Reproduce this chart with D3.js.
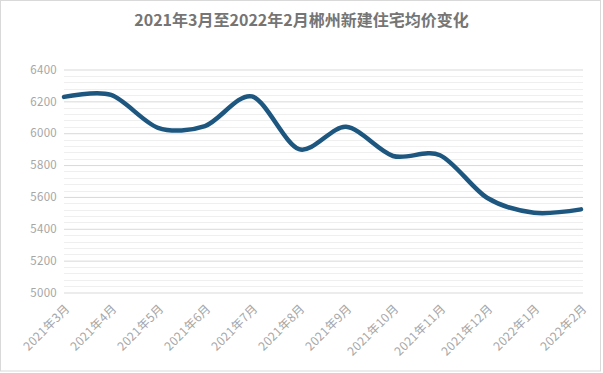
<!DOCTYPE html>
<html>
<head>
<meta charset="utf-8">
<script src="https://cdn.jsdelivr.net/npm/d3@7"></script>
<style>
  html, body { margin: 0; padding: 0; background: #fff; }
  svg { display: block; }
  text { font-family: "Noto Sans CJK SC", "Noto Sans", sans-serif; }
</style>
</head>
<body>
<div id="chart"></div>
<script>
const title = '2021年3月至2022年2月郴州新建住宅均价变化';
const months = ['2021年3月', '2021年4月', '2021年5月', '2021年6月', '2021年7月', '2021年8月',
  '2021年9月', '2021年10月', '2021年11月', '2021年12月', '2022年1月', '2022年2月'];
const prices = [6228, 6240, 6034, 6045, 6231, 5900, 6040, 5857, 5862, 5595, 5501, 5522];
const yTicks = [5000, 5200, 5400, 5600, 5800, 6000, 6200, 6400];
const yMinorStep = 40;

const [w, h] = [603, 373];
const m = { top: 69.5, right: 22, bottom: 80.5, left: 64 };

const svg = d3.select('#chart').append('svg')
  .attr('width', w).attr('height', h);

svg.append('rect')
  .attr('x', 0.5).attr('y', 0.5)
  .attr('width', w - 3).attr('height', h - 2.5)
  .attr('fill', '#fff').attr('stroke', '#d9d9d9');

svg.append('text')
  .attr('x', w / 2).attr('y', 26)
  .attr('text-anchor', 'middle')
  .attr('font-size', 16).attr('font-weight', 'bold')
  .attr('fill', '#757575')
  .text(title);

const x = d3.scalePoint().domain(months).range([m.left, w - m.right]);
const y = d3.scaleLinear().domain([5000, 6400]).range([h - m.bottom, m.top]);

// minor grid
const minor = d3.range(5000, 6400, yMinorStep).filter(v => v % 200 !== 0);
svg.append('g').selectAll('line').data(minor).enter().append('line')
  .attr('x1', m.left).attr('x2', w - m.right + 2)
  .attr('y1', d => Math.round(y(d)) + 0.5).attr('y2', d => Math.round(y(d)) + 0.5)
  .attr('stroke', '#efefef');

// major grid + y axis labels
const yAxis = d3.axisLeft(y).tickValues(yTicks).tickFormat(d3.format('d'))
  .tickSize(-(w - m.left - m.right + 2)).tickPadding(7);
const gy = svg.append('g').attr('transform', `translate(${m.left},0)`).call(yAxis);
gy.select('.domain').remove();
gy.selectAll('.tick line').attr('stroke', '#d9d9d9');
gy.selectAll('.tick text').attr('fill', '#a6a6a6').attr('font-size', 11.5)
  .attr('letter-spacing', 0.3);

// x axis labels, rotated
const xAxis = d3.axisBottom(x).tickSize(0).tickPadding(0);
const gx = svg.append('g').attr('transform', `translate(0,${h - m.bottom})`).call(xAxis);
gx.select('.domain').remove();
gx.selectAll('.tick text')
  .attr('fill', '#a6a6a6').attr('font-size', 12)
  .attr('letter-spacing', 0.3)
  .attr('text-anchor', 'end')
  .attr('dy', 0)
  .attr('transform', 'translate(6,17) rotate(-45)');

const line = d3.line()
  .x((d, i) => x(months[i]))
  .y(d => y(d))
  .curve(d3.curveCardinal.tension(0.1));

svg.append('path')
  .datum(prices)
  .attr('d', line)
  .attr('fill', 'none')
  .attr('stroke', '#1d5780')
  .attr('stroke-width', 4.5)
  .attr('stroke-linecap', 'round');
</script>
</body>
</html>
